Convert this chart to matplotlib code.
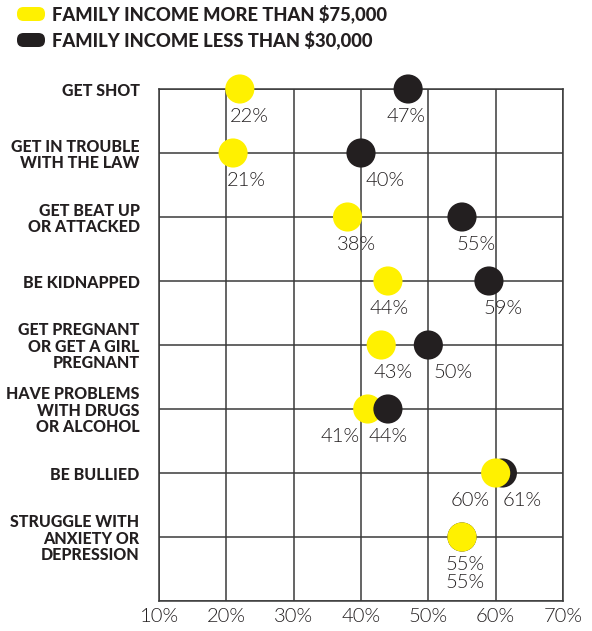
import matplotlib
matplotlib.use("Agg")
import matplotlib.pyplot as plt
from matplotlib.patches import FancyBboxPatch

# data
categories = ["GET SHOT", "GET IN TROUBLE\nWITH THE LAW", "GET BEAT UP\nOR ATTACKED",
              "BE KIDNAPPED", "GET PREGNANT\nOR GET A GIRL\nPREGNANT",
              "HAVE PROBLEMS\nWITH DRUGS\nOR ALCOHOL", "BE BULLIED",
              "STRUGGLE WITH\nANXIETY OR\nDEPRESSION"]
high_income = [22, 21, 38, 44, 43, 41, 60, 55]   # more than $75,000
low_income = [47, 40, 55, 59, 50, 44, 61, 55]    # less than $30,000
legend_labels = ["FAMILY INCOME MORE THAN $75,000", "FAMILY INCOME LESS THAN $30,000"]
xticks = [10, 20, 30, 40, 50, 60, 70]

YELLOW = "#FFF100"
BLACK = "#231F20"
GRID = "#3a3a3a"

plt.rcParams['font.family'] = ['Lato', 'DejaVu Sans']

fig = plt.figure(figsize=(5.92, 6.31), dpi=100)
W, H = 592, 631
ax = fig.add_axes([159/W, 1 - 601/H, (563-159)/W, (601-89)/H])

ax.set_xlim(10, 70)
ax.set_ylim(8, 0)
ax.set_xticks(xticks)
ax.set_xticklabels([f"{v}%" for v in xticks], fontsize=14.5, color=BLACK, fontweight=300)
ax.set_yticks(range(len(categories)))
ax.set_yticklabels(categories, fontsize=11.5, fontweight='black', color=BLACK,
                   linespacing=1.05)
ax.tick_params(length=0)
ax.tick_params(axis='x', pad=5)
ax.tick_params(axis='y', pad=14)
for lab in ax.get_yticklabels():
    lab.set_ha('right')

for x in xticks:
    ax.axvline(x, color=GRID, lw=1.1, zorder=1)
for y in range(9):
    ax.axhline(y, color=GRID, lw=1.1, zorder=1)
for s in ax.spines.values():
    s.set_color(GRID)
    s.set_linewidth(1.1)

# which row has the yellow dot drawn on top
yellow_top = [True, True, True, True, True, False, True, True]
# label offsets in pixels (dx yellow, dx black)
dx_y = [10, 13, 9, 1, 12, -28, -25, 3]
dx_b = [-2, 24, 14, 14, 25, 0, 20, 3]
dy_y = [27] * 8
dy_b = [27, 27, 27, 27, 27, 27, 27, 46]

for i in range(len(categories)):
    zy = 5 if yellow_top[i] else 4
    zb = 4 if yellow_top[i] else 5
    ax.scatter(high_income[i], i, s=440, color=YELLOW, edgecolors='none', zorder=zy, clip_on=False)
    ax.scatter(low_income[i], i, s=440, color=BLACK, edgecolors='none', zorder=zb, clip_on=False)
    ax.annotate(f"{high_income[i]}%", (high_income[i], i), xytext=(dx_y[i], -dy_y[i]),
                textcoords='offset pixels', ha='center', va='center', fontsize=14.5,
                fontweight=300, color=BLACK, zorder=6)
    ax.annotate(f"{low_income[i]}%", (low_income[i], i), xytext=(dx_b[i], -dy_b[i]),
                textcoords='offset pixels', ha='center', va='center', fontsize=14.5,
                fontweight=300, color=BLACK, zorder=6)

# legend
for k, (lab, col) in enumerate(zip(legend_labels, [YELLOW, BLACK])):
    yc = 14 + 26 * k
    box = FancyBboxPatch((17/W, 1 - (yc + 7)/H), 28/W, 14/H,
                         boxstyle="round,pad=0,rounding_size=0.011",
                         transform=fig.transFigure, facecolor=col, edgecolor='none',
                         mutation_aspect=W/H)
    fig.patches.append(box)
    fig.text(52/W, 1 - yc/H, lab, fontsize=13.2, fontweight='black', color=BLACK,
             va='center', ha='left')

fig.savefig("out.png", dpi=100)
